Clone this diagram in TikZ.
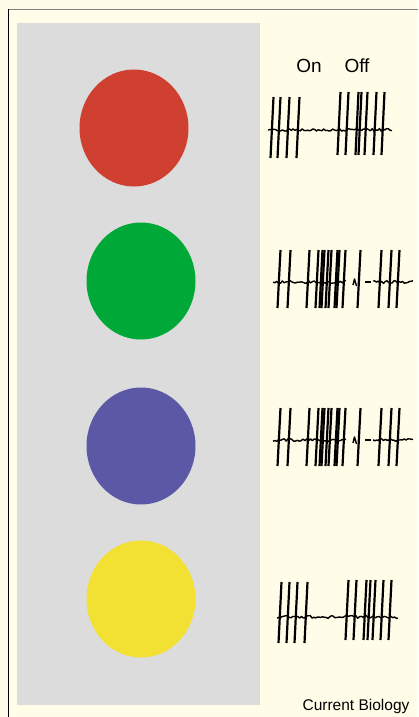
\documentclass[tikz,border=0pt]{standalone}
\usepackage{fontspec}
\setmainfont{Liberation Sans}
\usepackage{xcolor}
\usetikzlibrary{shapes.geometric}

\definecolor{cream}{HTML}{FFFCE8}
\definecolor{panel}{HTML}{DCDCDC}
\definecolor{redc}{HTML}{D04030}
\definecolor{greenc}{HTML}{00A838}
\definecolor{bluec}{HTML}{5B58A5}
\definecolor{yellowc}{HTML}{F2E033}

\begin{document}
\begin{tikzpicture}[
    x=1pt, y=-1pt,
    disc/.style={ellipse, inner sep=0pt, minimum width=109, minimum height=117},
    spike/.style={line width=2.2pt},
    trace/.style={line width=1.4pt, line join=round},
    label/.style={inner sep=0pt, font=\fontsize{19}{19}\selectfont}
]
\pgfmathsetseed{11}
\useasboundingbox (0,0) rectangle (418,717);
\fill[cream] (0,0) rectangle (418,717);
\draw[black!50, line width=1.5pt] (8,9.5) -- (418,9.5);
\draw[black, line width=1.5pt] (8.5,9) -- (8.5,717);
\fill[panel] (17,23) rectangle (260,705);

% stimuli
\node[disc, fill=redc]    (red)    at (134,128) {};
\node[disc, fill=greenc]  (green)  at (141,281) {};
\node[disc, fill=bluec]   (blue)   at (141,446) {};
\node[disc, fill=yellowc] (yellow) at (141,599) {};

% labels
\node[label] (on)  at (309,66) {On};
\node[label] (off) at (357,66) {Off};
\node[inner sep=0pt, font=\fontsize{15.5}{15.5}\selectfont] (journal) at (356,706) {Current Biology};

% red response
\draw[trace] plot[domain=268:392, samples=70] (\x, {130+1.4*rand});
\foreach \s in {272,279,288,298}
  \draw[spike] (\s+1.5,97) -- (\s-1.5,158);
\foreach \s in {339,347,357,360,366,375,383}
  \draw[spike] (\s+1.5,92) -- (\s-1.5,155);

% green and blue responses
\foreach \b in {282,440} {
  \draw[trace] plot[domain=273:346, samples=40] (\x, {\b+1.4*rand});
  \draw[trace] (353,\b+3) -- (354.5,\b-3) -- (356.5,\b+4);
  \draw[trace] (365,\b) -- (371,\b);
  \draw[trace] plot[domain=373:413, samples=24] (\x, {\b+1.4*rand});
  \foreach \s in {279,289,308,317,321,323,327,330,336,338,344,359,380,390,398}
    \draw[spike] (\s+1.5,\b-32) -- (\s-1.5,\b+26);
}

% yellow response
\draw[trace] plot[domain=277:398, samples=70] (\x, {617+1.4*rand});
\foreach \s in {280,288,296,306}
  \draw[spike] (\s+1.5,582) -- (\s-1.5,643);
\foreach \s in {347,355,365,369,374,382,390}
  \draw[spike] (\s+1.5,580) -- (\s-1.5,640);
\end{tikzpicture}
\end{document}
